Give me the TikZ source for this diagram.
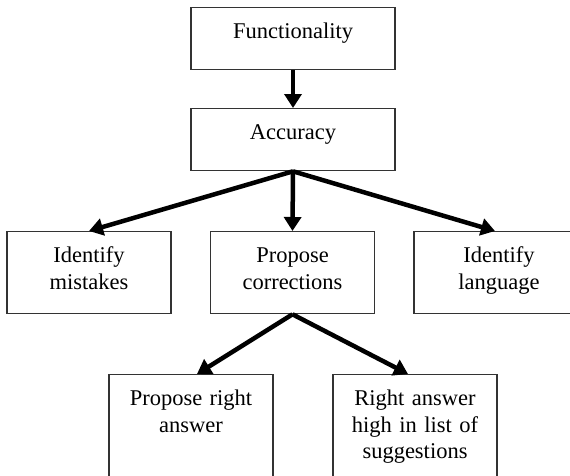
\documentclass[tikz,border=0pt]{standalone}
\usepackage{fontspec}
\setmainfont{Liberation Serif}
\usetikzlibrary{arrows.meta}
\begin{document}
\begin{tikzpicture}[x=1pt, y=-1pt,
            box/.style={draw=black!80, line width=1.3pt, anchor=north, inner sep=0pt,
                text width=#1, align=center, text height=31pt,
                font=\fontsize{22.5}{26.5}\selectfont},
            link/.style={line width=4.5pt, -{Triangle[length=14pt,width=17pt]}}
            ]
            \useasboundingbox (0,0) rectangle (570,475);
            \node[box=204pt, text depth=31pt] (func) at (293,7) {Functionality};
            \node[box=204pt, text depth=31pt] (acc) at (293,108) {Accuracy};
            \node[box=164pt, text depth=51pt] (idm) at (89,231) {Identify\\ mistakes};
            \node[box=164pt, text depth=51pt] (prc) at (292.5,231) {Propose\\ corrections};
            \node[box=170pt, text depth=51pt] (idl) at (499,231) {Identify\\ language};
            \node[box=164pt, text depth=80pt] (pra) at (191,374) {Propose right\\ answer};
            \node[box=164pt, text depth=80pt] (rah) at (415,374) {Right answer\\ high in list of\\ suggestions};

            \draw[link] (func) -- (acc);
            \draw[link] (acc.south) -- (idm.north);
            \draw[link] (acc.south) -- (prc.north);
            \draw[link] (acc.south) -- ([xshift=-4pt]idl.north);
            \draw[link] (prc.south) -- ([xshift=6pt]pra.north);
            \draw[link] (prc.south) -- ([xshift=-7pt]rah.north);

            \end{tikzpicture}
\end{document}
